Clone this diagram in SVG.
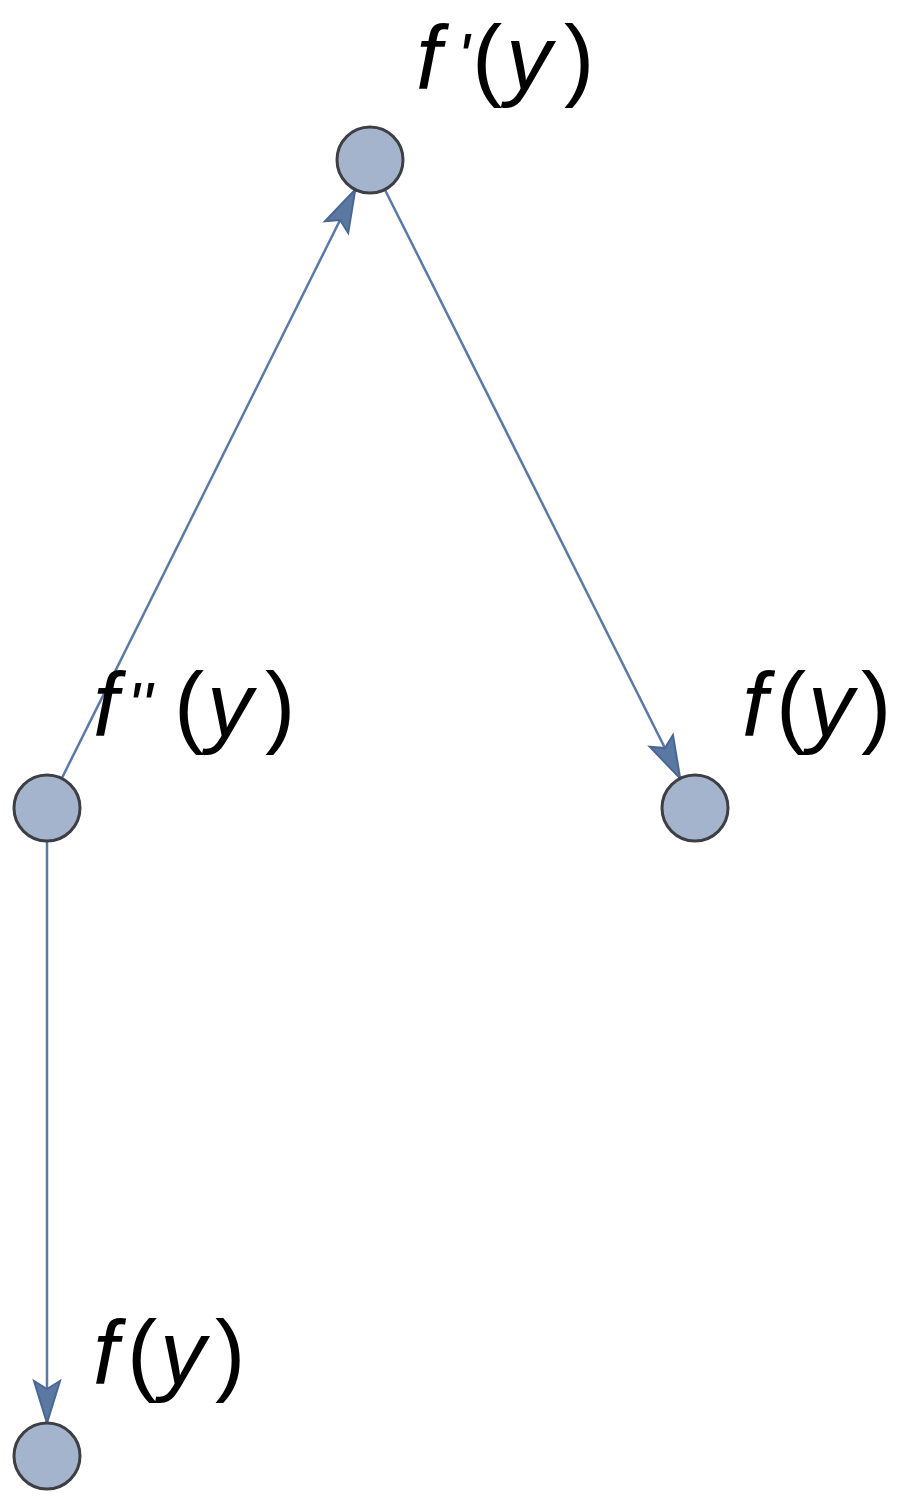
<svg xmlns="http://www.w3.org/2000/svg" width="899" height="1505" viewBox="0 0 899 1505">
<style>
.edge{stroke:#5b79a6;stroke-width:2.5;fill:none}
.node{fill:#a3b4cc;stroke:#3d3f44;stroke-width:3}
.lbl{font-family:"Liberation Sans","DejaVu Sans",sans-serif;font-size:91px;fill:#000}
.it{font-style:italic}
.pr{font-style:italic;font-size:66px}
</style>
<defs>
<marker id="arr" markerUnits="userSpaceOnUse" markerWidth="50" markerHeight="34" refX="0" refY="0" orient="auto" style="overflow:visible">
<path d="M0,0 L-42,-13 L-34,0 L-42,13 Z" fill="#5b78a3" stroke="#4a6894" stroke-width="2" stroke-linejoin="miter"/>
</marker>
</defs>
<rect width="899" height="1505" fill="#fff"/>
<g id="edges">
<line class="edge" x1="61.7" y1="778.5" x2="355.3" y2="189.5" marker-end="url(#arr)"/>
<line class="edge" x1="384.8" y1="189.5" x2="680.2" y2="778.5" marker-end="url(#arr)"/>
<line class="edge" x1="47" y1="841" x2="47" y2="1423" marker-end="url(#arr)"/>
</g>
<g id="n1">
<circle class="node" cx="370" cy="160" r="33"/>
<text class="lbl" y="89"><tspan class="it" x="416">f</tspan><tspan class="pr" x="457" dy="-9">'</tspan><tspan x="472" dy="9">(</tspan><tspan class="it" x="506">y</tspan><tspan x="564">)</tspan></text>
</g>
<g id="n2">
<circle class="node" cx="47" cy="808" r="33"/>
<text class="lbl" y="736"><tspan class="it" x="93">f</tspan><tspan class="pr" x="127" dy="-7">'</tspan><tspan class="pr" x="140">'</tspan><tspan x="174" dy="7">(</tspan><tspan class="it" x="207">y</tspan><tspan x="265">)</tspan></text>
</g>
<g id="n3">
<circle class="node" cx="695" cy="808" r="33"/>
<text class="lbl" y="736"><tspan class="it" x="742">f</tspan><tspan x="776">(</tspan><tspan class="it" x="808">y</tspan><tspan x="861">)</tspan></text>
</g>
<g id="n4">
<circle class="node" cx="47" cy="1456" r="33"/>
<text class="lbl" y="1384"><tspan class="it" x="93">f</tspan><tspan x="127">(</tspan><tspan class="it" x="160">y</tspan><tspan x="215">)</tspan></text>
</g>
</svg>
